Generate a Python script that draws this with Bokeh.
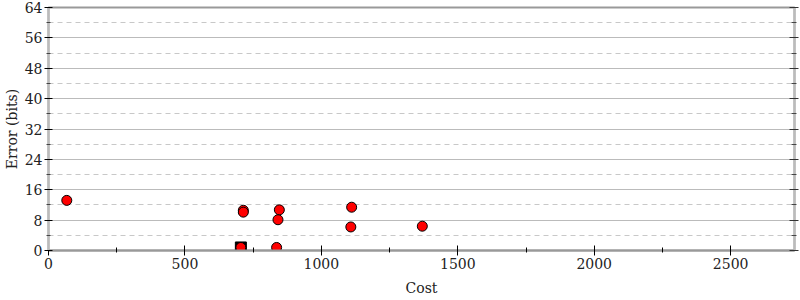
from bokeh.plotting import figure
from bokeh.models import LinearAxis, FixedTicker, Range1d, CustomJSTickFormatter
from bokeh.embed import file_html
from bokeh.resources import INLINE

# data
cost = [67, 714, 714, 846, 841, 1111, 1108, 1370, 705, 836]
error_bits = [13.2, 10.6, 10.1, 10.7, 8.1, 11.4, 6.2, 6.4, 0.8, 0.8]
best_cost = [705]
best_error = [0.8]

x_major = [0, 500, 1000, 1500, 2000, 2500]
x_minor = [250, 750, 1250, 1750, 2250, 2750]
y_major = [0, 8, 16, 24, 32, 40, 48, 56, 64]
y_minor = [4, 12, 20, 28, 36, 44, 52, 60]

FONT = "DejaVu Serif"
FS = "14px"

p = figure(width=800, height=300, output_backend="svg", toolbar_location=None,
           x_range=Range1d(0, 2734), y_range=Range1d(0, 64),
           x_axis_location=None, y_axis_location=None,
           min_border_left=48, min_border_right=6, min_border_top=7, min_border_bottom=50)
p.outline_line_color = "#999999"
p.outline_line_width = 2
p.background_fill_color = "white"
p.border_fill_color = "white"

xt = FixedTicker(ticks=x_major, minor_ticks=x_minor)
yt = FixedTicker(ticks=y_major, minor_ticks=y_minor)

bottom = LinearAxis(ticker=xt, axis_label="Cost")
bottom.axis_line_color = "#999999"
bottom.axis_line_width = 2
bottom.major_tick_in = 5
bottom.major_tick_out = 5
bottom.minor_tick_in = 3
bottom.minor_tick_out = 2
bottom.major_tick_line_color = "black"
bottom.minor_tick_line_color = "black"
bottom.major_label_standoff = 2
bottom.axis_label_standoff = 8
bottom.major_label_text_font = FONT
bottom.major_label_text_font_size = FS
bottom.major_label_text_color = "#222222"
bottom.axis_label_text_font = FONT
bottom.axis_label_text_font_size = FS
bottom.axis_label_text_color = "#222222"
bottom.axis_label_text_font_style = "normal"
p.add_layout(bottom, "below")

left = LinearAxis(ticker=yt, axis_label="Error (bits)")
left.axis_line_color = "#bbbbbb"
left.axis_line_width = 2
left.major_tick_in = 4
left.major_tick_out = 4
left.minor_tick_in = 2
left.minor_tick_out = 2
left.major_tick_line_color = "black"
left.minor_tick_line_color = "#444444"
left.major_label_standoff = 2
left.axis_label_standoff = 2
left.major_label_text_font = FONT
left.major_label_text_font_size = FS
left.major_label_text_color = "#222222"
left.axis_label_text_font = FONT
left.axis_label_text_font_size = FS
left.axis_label_text_color = "#222222"
left.axis_label_text_font_style = "normal"
p.add_layout(left, "left")

right = LinearAxis(ticker=yt, formatter=CustomJSTickFormatter(code="return ''"))
right.axis_line_color = "#bbbbbb"
right.axis_line_width = 2
right.major_tick_in = 5
right.major_tick_out = 4
right.minor_tick_in = 3
right.minor_tick_out = 2
right.major_tick_line_color = "#333333"
right.minor_tick_line_color = "#444444"
right.major_label_standoff = 0
p.add_layout(right, "right")

p.xgrid.visible = False
p.ygrid.ticker = yt
p.ygrid.grid_line_color = "#bbbbbb"
p.ygrid.grid_line_width = 1
p.ygrid.minor_grid_line_color = "#c8c8c8"
p.ygrid.minor_grid_line_dash = "5 4"
p.ygrid.minor_grid_line_width = 1

p.scatter(best_cost, best_error, marker="square", size=11, fill_color="black", line_color="black")
p.scatter(cost, error_bits, marker="circle", size=10, fill_color="red", line_color="black", line_width=1)

open("out.html", "w").write(file_html(p, INLINE))
